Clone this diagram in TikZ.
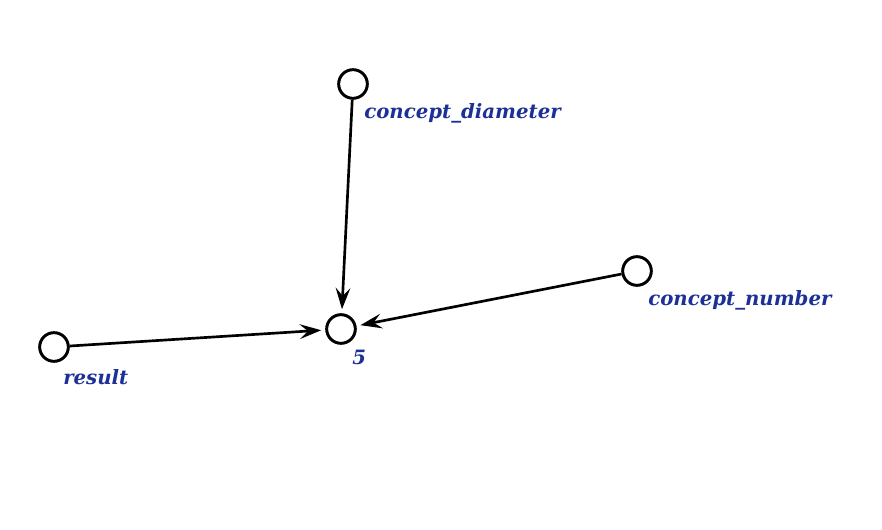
\documentclass[tikz,border=0pt]{standalone}
\usepackage{fontspec}
\setmainfont{DejaVu Serif}
\usetikzlibrary{arrows.meta, positioning}
\definecolor{labelBlue}{RGB}{28,48,150}

\begin{document}
\begin{tikzpicture}[
    x=0.75pt, y=-0.75pt,
    vertex/.style={circle, draw=black, line width=2.2pt, fill=white, minimum size=21.5pt, inner sep=0pt},
    vlabel/.style={anchor=west, inner sep=0pt, text=labelBlue, font=\fontsize{14.8}{17}\selectfont\bfseries\itshape},
    arrow/.style={-{Stealth[length=16pt, width=11pt, inset=6pt]}, line width=2pt, shorten >=3pt}
]
\useasboundingbox (0,0) rectangle (882,530);

% Vertices
\node[vertex] (diameter) at (353,84) {};
\node[vertex] (number) at (637,271) {};
\node[vertex] (five) at (341,329) {};
\node[vertex] (result) at (54,347) {};

% Labels
\node[vlabel] (diameterlbl) at (364,113) {concept\_diameter};
\node[vlabel] (numberlbl) at (648,300) {concept\_number};
\node[vlabel] (fivelbl) at (352,357) {5};
\node[vlabel] (resultlbl) at (63,377) {result};

% Edges
\draw[arrow] (diameter) -- (five);
\draw[arrow] (number) -- (five);
\draw[arrow] (result) -- (five);

\end{tikzpicture}
\end{document}
